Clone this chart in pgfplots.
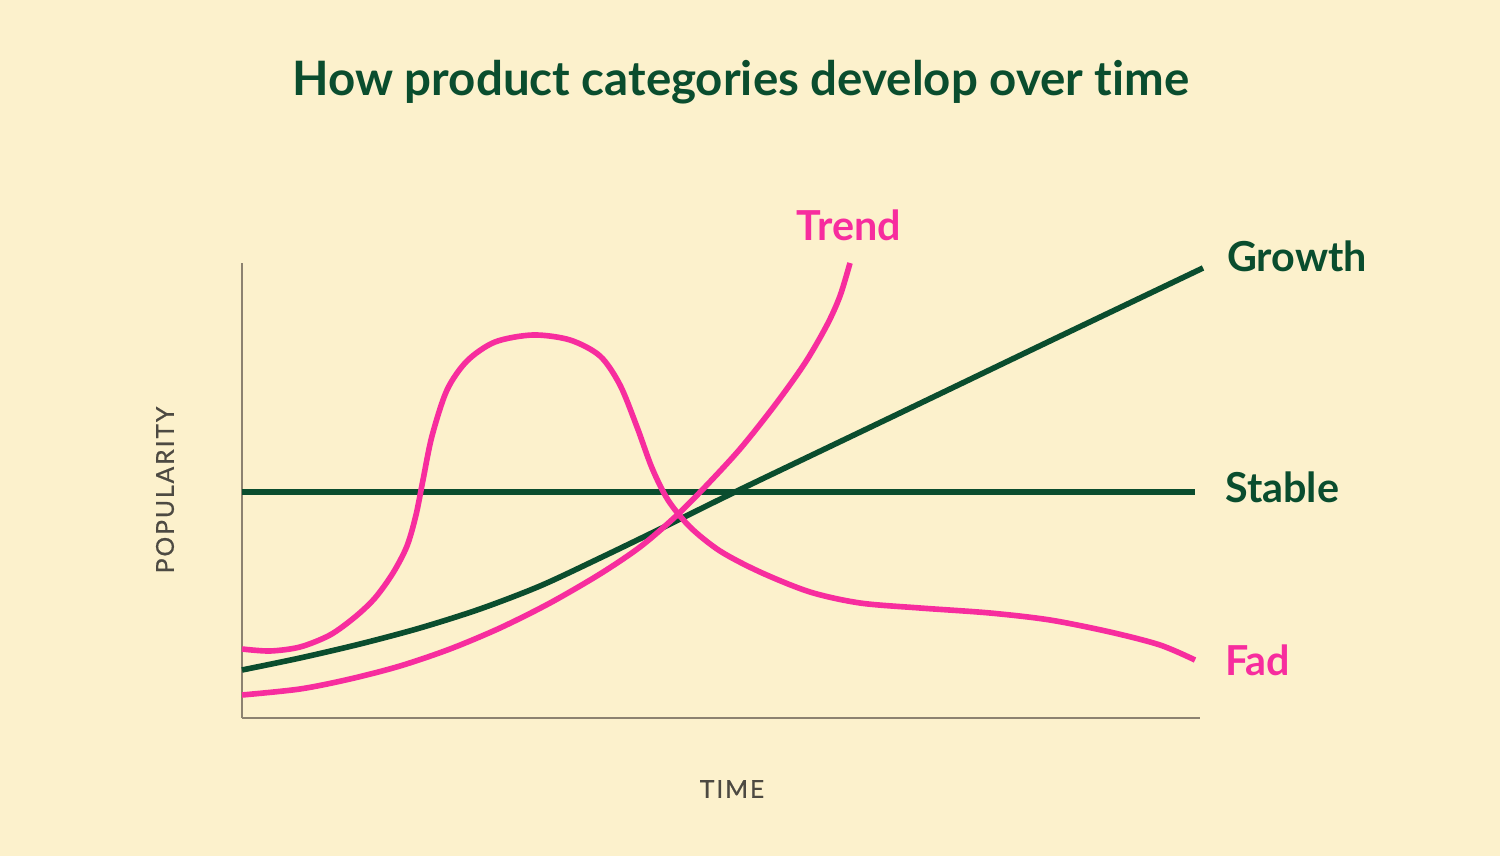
\documentclass[border=0pt]{standalone}
\usepackage{pgfplots}
\pgfplotsset{compat=1.18}
\usepackage{fontspec}
\setmainfont{Lato}[Ligatures=NoCommon]
\newfontfamily\spaced[LetterSpace=8, FakeBold=0.6, Ligatures=NoCommon]{Lato}

\definecolor{bg}{HTML}{FCF1CC}
\definecolor{dgreen}{HTML}{0A4D2E}
\definecolor{fpink}{HTML}{F72D9E}
\definecolor{axgray}{HTML}{8C8270}
\definecolor{lblgray}{HTML}{4D4A42}

% 1 px of the reference = 0.02cm; data coords are pixel x and (856 - pixel y)
\begin{document}
\begin{tikzpicture}
\fill[bg] (-4.84cm,-2.76cm) rectangle (25.16cm,14.36cm);
\begin{axis}[
    at={(0,0)}, anchor=south west,
    scale only axis,
    width=19.16cm, height=9.1cm,
    xmin=242, xmax=1200, ymin=138, ymax=593,
    axis x line=bottom, axis y line=left,
    axis line style={axgray, line width=0.9pt, -},
    xtick=\empty, ytick=\empty,
    clip=false,
    every axis plot/.append style={line width=3.2pt, no marks, line cap=butt, line join=round},
]
% Stable
\addplot[dgreen] coordinates {(242,364) (1195,364)};
% Growth
\addplot[dgreen, smooth] coordinates {
(242,186) (300,198) (360,212) (420,228) (480,247) (540,270) (600,298)
(660,327) (735,364) (900,443) (1050,515) (1203,588)};
% Trend
\addplot[fpink, smooth] coordinates {
(242,161) (300,167) (350,177) (400,190) (450,207) (500,228) (550,253)
(600,282) (640,309) (675,339) (705,369) (740,407) (775,451) (805,493)
(827,531) (840,560) (850,593)};
% Fad
\addplot[fpink, smooth] coordinates {
(242,207) (270,205) (300,209) (330,221) (355,239) (375,258) (393,283)
(407,310) (416,341) (423,376) (432,420) (447,466) (467,495) (495,514)
(533,521) (570,516) (600,500) (620,471) (637,429) (652,388) (668,356)
(690,329) (720,305) (760,284) (810,264) (860,253) (920,248) (990,243)
(1050,236) (1110,224) (1160,211) (1195,196)};

\node[anchor=base, font=\fontsize{27}{30}\selectfont\bfseries, text=dgreen]
  at (axis cs:741,760) {How product categories develop over time};
\node[anchor=base, font=\fontsize{23.5}{26}\selectfont\bfseries, text=fpink]
  at (axis cs:849,615) {Trend};
\node[anchor=base west, font=\fontsize{23.5}{26}\selectfont\bfseries, text=dgreen]
  at (axis cs:1221,584) {Growth};
\node[anchor=base west, font=\fontsize{23.5}{26}\selectfont\bfseries, text=dgreen]
  at (axis cs:1219,353) {Stable};
\node[anchor=base west, font=\fontsize{23.5}{26}\selectfont\bfseries, text=fpink]
  at (axis cs:1219,180) {Fad};
\node[rotate=90, anchor=center, font=\spaced\fontsize{14}{16}\selectfont, text=lblgray]
  at (axis cs:165,366) {POPULARITY};
\node[anchor=center, font=\spaced\fontsize{14}{16}\selectfont, text=lblgray]
  at (axis cs:732,67) {TIME};
\end{axis}
\end{tikzpicture}
\end{document}
